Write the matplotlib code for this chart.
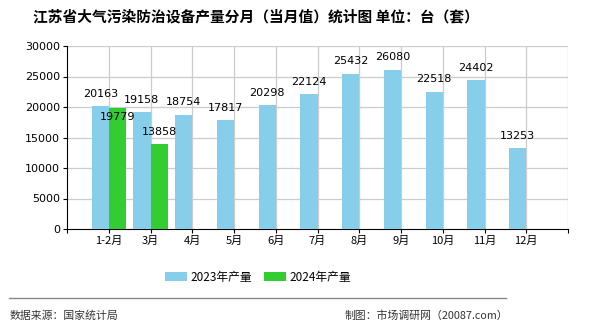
import matplotlib
matplotlib.use("Agg")
import matplotlib.pyplot as plt
from matplotlib.patches import Patch
from matplotlib.lines import Line2D

plt.rcParams['font.family'] = ['Noto Sans CJK SC', 'DejaVu Sans']

categories = ["1-2月", "3月", "4月", "5月", "6月", "7月", "8月", "9月", "10月", "11月", "12月"]
values_2023 = [20163, 19158, 18754, 17817, 20298, 22124, 25432, 26080, 22518, 24402, 13253]
values_2024 = [19779, 13858]
series_names = ["2023年产量", "2024年产量"]
yticks = [0, 5000, 10000, 15000, 20000, 25000, 30000]

blue = "#87CEEB"
green = "#33CC33"

fig = plt.figure(figsize=(5.9, 3.3), dpi=100)
ax = fig.add_axes([67/590, 101/330, 501/590, 183/330])

w = 0.41
x1 = [i - w/2 for i in range(len(values_2023))]
x2 = [i + w/2 for i in range(len(values_2024))]
ax.bar(x1, values_2023, width=w, color=blue, zorder=3)
ax.bar(x2, values_2024, width=w, color=green, zorder=3)

for x, v in zip(x1, values_2023):
    ax.annotate(str(v), (x, v), xytext=(0, 9), textcoords="offset points",
                ha="center", va="center", fontsize=8, family="DejaVu Sans", zorder=5)
for i, (x, v) in enumerate(zip(x2, values_2024)):
    off = (0, -6.5) if i == 0 else (0, 9)
    ax.annotate(str(v), (x, v), xytext=off, textcoords="offset points",
                ha="center", va="center", fontsize=8, family="DejaVu Sans", zorder=5)

ax.set_xlim(-1, len(categories))
ax.set_ylim(0, 30000)
ax.set_yticks(yticks)
ax.set_yticklabels([str(t) for t in yticks], fontsize=8, family="DejaVu Sans")
ax.set_xticks(list(range(-1, len(categories) + 1)))
ax.set_xticklabels([""] + categories + [""], fontsize=8)

for t in yticks[1:]:
    ax.axhline(t, color="#CCCCCC", lw=0.9, zorder=1)
for i in range(len(categories) + 1):
    ax.axvline(i, color="#CCCCCC", lw=0.9, zorder=1)

for s in ["top", "right"]:
    ax.spines[s].set_visible(False)
ax.spines["left"].set_color("black")
ax.spines["bottom"].set_color("black")
ax.tick_params(axis="both", direction="out", length=3, width=0.8, pad=2)

fig.text(256/590, 1 - 16/330, "江苏省大气污染防治设备产量分月（当月值）统计图 单位：台（套）",
         ha="center", va="center", fontsize=10.6, fontweight="bold")

handles = [Patch(facecolor=blue), Patch(facecolor=green)]
fig.legend(handles, series_names, loc="center", bbox_to_anchor=(258/590, 1 - 277/330),
           ncol=2, frameon=False, fontsize=8.5, handlelength=1.9, handleheight=0.9,
           columnspacing=1.0, handletextpad=0.3)

fig.add_artist(Line2D([9/590, 506/590], [1 - 298/330, 1 - 298/330], color="#888888", lw=1))
fig.text(10/590, 1 - 316/330, "数据来源：国家统计局", ha="left", va="center", fontsize=7.8, color="#333333")
fig.text(508/590, 1 - 316/330, "制图：市场调研网（20087.com）", ha="right", va="center", fontsize=7.8, color="#333333")

fig.savefig("out.png", dpi=100)
